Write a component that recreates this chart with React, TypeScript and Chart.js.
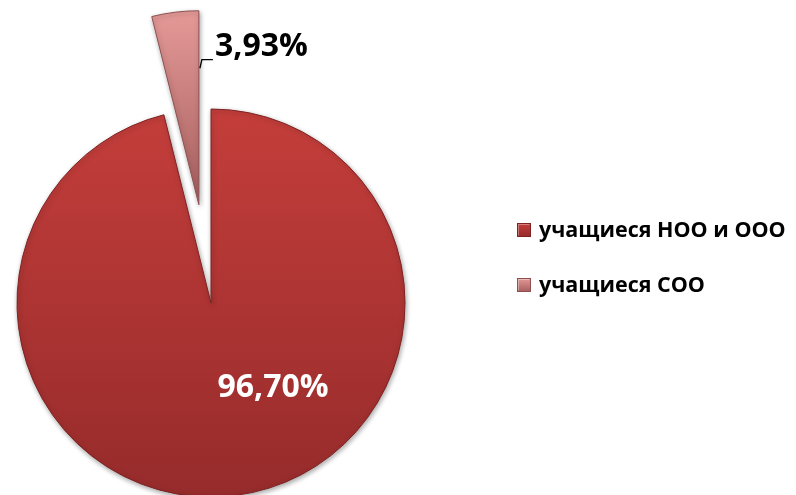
import React, { useEffect, useRef } from "react";
import { Chart, registerables } from "chart.js";

Chart.register(...registerables);

const categories = ["учащиеся НОО и ООО", "учащиеся СОО"];
const values = [96.7, 3.93];
const valueLabels = ["96,70%", "3,93%"];

const topColors = ["#C43E3B", "#E59A98"];
const bottomColors = ["#962B2B", "#A55E5D"];
const edgeColors = ["#7E2222", "#8E5150"];
const explode = [0, 99];

const FONT = "'Open Sans', 'Noto Sans', sans-serif";
const RADIUS = 194;

function makeGradient(ctx: CanvasRenderingContext2D, y0: number, y1: number, i: number) {
  const g = ctx.createLinearGradient(0, y0, 0, y1);
  g.addColorStop(0, topColors[i]);
  g.addColorStop(1, bottomColors[i]);
  return g;
}

const explodePlugin = {
  id: "explodeSlices",
  afterDatasetUpdate(chart: any) {
    const meta = chart.getDatasetMeta(0);
    meta.data.forEach((arc: any, i: number) => {
      const d = explode[i] || 0;
      if (!d) return;
      const mid = (arc.startAngle + arc.endAngle) / 2;
      arc.x += Math.cos(mid) * d;
      arc.y += Math.sin(mid) * d;
    });
  },
  beforeDatasetDraw(chart: any) {
    const c = chart.ctx;
    c.save();
    c.shadowColor = "rgba(0,0,0,0.35)";
    c.shadowBlur = 5;
    c.shadowOffsetX = 1;
    c.shadowOffsetY = 2;
  },
  afterDatasetDraw(chart: any) {
    chart.ctx.restore();
  },
};

const labelPlugin = {
  id: "sliceLabels",
  afterDraw(chart: any) {
    const c: CanvasRenderingContext2D = chart.ctx;
    const meta = chart.getDatasetMeta(0);
    const big = meta.data[0];
    const small = meta.data[1];
    const cx = big.x;
    const cy = big.y;
    const r = big.outerRadius;
    c.save();
    c.textAlign = "center";
    c.textBaseline = "middle";
    c.font = `bold 32px ${FONT}`;
    c.fillStyle = "#FFFFFF";
    c.fillText(valueLabels[0], cx + r * 0.32, cy + r * 0.44);

    c.fillStyle = "#000000";
    c.fillText(valueLabels[1], cx + r * 0.26, cy - r * 1.32);

    // leader line
    c.strokeStyle = "#000000";
    c.lineWidth = 1.3;
    c.beginPath();
    c.moveTo(small.x + 14, cy - r * 1.255);
    c.lineTo(small.x + 3, cy - r * 1.255);
    c.lineTo(small.x + 1, cy - r * 1.21);
    c.stroke();

    // legend
    const lx = 517;
    const ys = [230, 285];
    c.textAlign = "left";
    c.font = `bold 21.5px ${FONT}`;
    categories.forEach((name, i) => {
      const y = ys[i];
      const s = 14;
      const g = c.createLinearGradient(0, y - s / 2, 0, y + s / 2);
      g.addColorStop(0, topColors[i]);
      g.addColorStop(1, bottomColors[i]);
      c.fillStyle = g;
      c.fillRect(lx, y - s / 2, s, s);
      c.strokeStyle = edgeColors[i];
      c.lineWidth = 1;
      c.strokeRect(lx + 0.5, y - s / 2 + 0.5, s - 1, s - 1);
      c.strokeStyle = "rgba(255,255,255,0.35)";
      c.beginPath();
      c.moveTo(lx + 1.5, y + s / 2 - 1.5);
      c.lineTo(lx + 1.5, y - s / 2 + 1.5);
      c.lineTo(lx + s - 1.5, y - s / 2 + 1.5);
      c.stroke();
      c.fillStyle = "#000000";
      c.fillText(name, lx + 22, y + 1);
    });
    c.restore();
  },
};

export default function App() {
  const ref = useRef<HTMLCanvasElement | null>(null);
  useEffect(() => {
    if (!ref.current) return;
    const chart = new Chart(ref.current, {
      type: "pie",
      data: {
        labels: categories,
        datasets: [
          {
            data: values,
            backgroundColor: (ctx: any) => {
              const chart = ctx.chart;
              const area = chart.chartArea;
              const i = ctx.dataIndex ?? 0;
              if (!area) return topColors[i];
              const cy = (area.top + area.bottom) / 2;
              if (i === 0) return makeGradient(chart.ctx, cy - RADIUS, cy + RADIUS, 0);
              return makeGradient(chart.ctx, cy - RADIUS - explode[1], cy - explode[1], 1);
            },
            borderColor: edgeColors,
            borderWidth: 1,
            clip: false,
          } as any,
        ],
      },
      options: {
        animation: false,
        responsive: true,
        maintainAspectRatio: false,
        radius: RADIUS,
        layout: { padding: { left: 0, right: 374, top: 111, bottom: 0 } },
        plugins: {
          legend: { display: false },
          tooltip: { enabled: false },
        },
      } as any,
      plugins: [explodePlugin, labelPlugin],
    });
    return () => chart.destroy();
  }, []);
  return (
    <div style={{ position: "fixed", left: 0, top: 0, width: 796, height: 495, background: "#fff" }}>
      <canvas ref={ref} />
    </div>
  );
}
